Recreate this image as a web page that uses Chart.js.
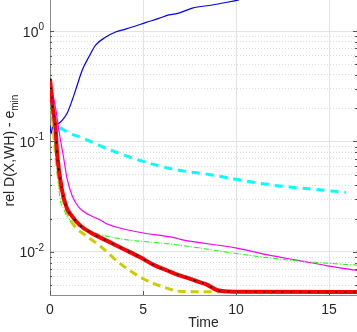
<!DOCTYPE html>
<html lang="en">
<head>
    <meta charset="UTF-8">
    <title>rel D(X,WH) over time</title>
    <style>
        * { margin: 0; padding: 0; box-sizing: border-box; }
        body { background: #fff; width: 357px; height: 332px; overflow: hidden; }
        #chart { display: block; }
    </style>
</head>
<body>
    <canvas id="chart" width="357" height="332"></canvas>
    <script src="https://cdn.jsdelivr.net/npm/chart.js@4/dist/chart.umd.min.js"></script>
    <script>
        // tick labels
        const timeTicks = [0, 5, 10, 15];
        const yMajor = [0.01, 0.1, 1];

        // series as [time, value]
        const blueLine = [[0, 0.14], [0.06, 0.118], [0.15, 0.14], [0.3, 0.145], [0.47, 0.146], [0.65, 0.155], [0.92, 0.18],
            [1.19, 0.236], [1.46, 0.323], [1.73, 0.442], [2.09, 0.584], [2.45, 0.746], [2.98, 0.877], [3.52, 0.98],
            [4.06, 1.04], [4.6, 1.11], [5.13, 1.19], [5.85, 1.30], [6.39, 1.40], [6.92, 1.45], [7.65, 1.61],
            [8.72, 1.72], [9.44, 1.81], [10.15, 1.91]];
        const cyanLine = [[0, 0.3], [0.1, 0.17], [0.38, 0.14], [1.0, 0.12], [1.73, 0.108], [3.07, 0.086], [5.0, 0.066],
            [6.84, 0.0553], [8.63, 0.05], [10.42, 0.0442], [12.2, 0.0398], [14.0, 0.0372], [15.9, 0.0346]];
        const magentaLine = [[0, 0.36], [0.3, 0.2], [0.5, 0.12], [0.74, 0.07], [0.92, 0.0458], [1.19, 0.0323],
            [1.55, 0.0253], [2.09, 0.0217], [2.7, 0.0195], [3.07, 0.0179], [4.87, 0.015], [6.66, 0.0135],
            [7.0, 0.013], [9.97, 0.0109], [11.7, 0.0094], [13.3, 0.0084], [14.9, 0.0075], [16.5, 0.0068]];
        const greenLine = [[0, 0.35], [0.2, 0.12], [0.4, 0.05], [0.56, 0.029], [0.74, 0.0245], [0.9, 0.021],
            [1.28, 0.0185], [1.64, 0.0172], [2.35, 0.015], [3.97, 0.013], [5.58, 0.0122], [7.0, 0.0115],
            [9.97, 0.0097], [12.4, 0.0086], [14.5, 0.008], [16.5, 0.0076]];
        const redLine = [[0, 0.37], [0.15, 0.2], [0.3, 0.13], [0.39, 0.075], [0.65, 0.036], [0.9, 0.025], [1.1, 0.022],
            [1.6, 0.0175], [2.18, 0.015], [3.07, 0.0126], [3.97, 0.0106], [4.87, 0.0089], [5.6, 0.0076],
            [6.3, 0.0068], [7.0, 0.0061], [7.3, 0.0059], [8.07, 0.0053], [8.4, 0.0051], [9.0, 0.0045],
            [9.9, 0.00437], [16.5, 0.00434]];
        const yellowLine = [[0, 0.36], [0.15, 0.15], [0.3, 0.078], [0.47, 0.045], [0.7, 0.03], [1.0, 0.021],
            [1.4, 0.0165], [1.82, 0.0145], [2.7, 0.0113], [3.79, 0.0078], [5.04, 0.0057], [6.12, 0.0048],
            [7.0, 0.0044], [8.0, 0.00437], [16.5, 0.00437]];

        const pts = arr => arr.map(([x, y]) => ({ x, y }));
        const isMajor = v => yMajor.some(m => Math.abs(m - v) < m * 1e-6);

        const line = (data, color, width, dash) => ({
            data: pts(data),
            borderColor: color,
            borderWidth: width,
            borderDash: dash || [],
            pointRadius: 0,
            fill: false,
            cubicInterpolationMode: "monotone",
        });

        const textColor = "#262626";
        const axisColor = "#8c8c8c";
        const fontFamily = '"Liberation Sans", Arial, sans-serif';

        // y tick labels with superscripts, y title with subscript, inner tick marks
        const matlabDecor = {
            id: "matlabDecor",
            afterDraw(chart) {
                const { ctx, chartArea: a } = chart;
                const y = chart.scales.y, x = chart.scales.x;
                ctx.save();
                ctx.strokeStyle = "#555";
                ctx.lineWidth = 1;
                // tick marks inside the box
                y.ticks.forEach(t => {
                    const py = Math.round(y.getPixelForValue(t.value)) + 0.5;
                    const len = isMajor(t.value) ? 4 : 2;
                    ctx.beginPath();
                    ctx.moveTo(a.left, py); ctx.lineTo(a.left + len, py);
                    ctx.moveTo(a.right, py); ctx.lineTo(a.right - len, py);
                    ctx.stroke();
                });
                timeTicks.forEach(v => {
                    const px = Math.round(x.getPixelForValue(v)) + 0.5;
                    ctx.beginPath();
                    ctx.moveTo(px, a.bottom); ctx.lineTo(px, a.bottom - 4);
                    ctx.stroke();
                });

                ctx.fillStyle = textColor;
                ctx.textBaseline = "alphabetic";
                yMajor.forEach(v => {
                    const py = y.getPixelForValue(v);
                    const sup = String(Math.round(Math.log10(v)));
                    ctx.font = "10px " + fontFamily;
                    const supW = ctx.measureText(sup).width;
                    ctx.textAlign = "left";
                    ctx.fillText(sup, 44 - supW, py - 1);
                    ctx.font = "14px " + fontFamily;
                    ctx.textAlign = "right";
                    ctx.fillText("10", 44 - supW, py + 5.5);
                });

                // y title
                const main = "rel D(X,WH) - e", sub = "min";
                ctx.font = "14px " + fontFamily;
                const w1 = ctx.measureText(main).width;
                ctx.font = "10px " + fontFamily;
                const w2 = ctx.measureText(sub).width;
                ctx.translate(14, (a.top + a.bottom) / 2 + 3);
                ctx.rotate(-Math.PI / 2);
                ctx.textAlign = "left";
                const start = -(w1 + w2) / 2;
                ctx.font = "14px " + fontFamily;
                ctx.fillText(main, start, 0);
                ctx.font = "10px " + fontFamily;
                ctx.fillText(sub, start + w1, 4);
                ctx.restore();
            }
        };

        new Chart(document.getElementById("chart"), {
            type: "line",
            data: {
                datasets: [
                    line(redLine, "#000000", 1.6, [2, 7]),
                    line(redLine, "#ff0000", 4),
                    line(yellowLine, "#cccc00", 3, [8, 5]),
                    line(greenLine, "#00ff00", 1, [5, 2, 1, 2]),
                    line(magentaLine, "#ff00ff", 1.2),
                    line(blueLine, "#0000ff", 1.2),
                    line(cyanLine, "#00ffff", 3, [8, 6]),
                ],
            },
            options: {
                responsive: false,
                animation: false,
                layout: { padding: 0 },
                plugins: { legend: { display: false }, tooltip: { enabled: false } },
                scales: {
                    x: {
                        type: "linear",
                        min: 0,
                        max: 16.5,
                        afterBuildTicks: s => { s.ticks = timeTicks.map(v => ({ value: v })); },
                        afterFit: s => { s.height = 37; },
                        grid: { color: "#e3e3e3", drawTicks: false },
                        border: { color: axisColor },
                        ticks: {
                            padding: 7,
                            color: textColor,
                            font: { family: fontFamily, size: 14 },
                        },
                        title: {
                            display: true,
                            text: "Time",
                            color: textColor,
                            padding: 0,
                            font: { family: fontFamily, size: 14 },
                        },
                    },
                    y: {
                        type: "logarithmic",
                        min: 0.00408,
                        max: 1.908,
                        afterBuildTicks: s => {
                            const ticks = [];
                            yMajor.concat([10]).forEach(m => {
                                for (let k = 1; k <= 9; k++) {
                                    const v = +(m / 10 * k).toPrecision(3);
                                    if (v >= s.min && v <= s.max) ticks.push({ value: v, major: isMajor(v) });
                                }
                            });
                            s.ticks = ticks;
                        },
                        afterFit: s => { s.width = 50; },
                        grid: {
                            drawTicks: false,
                            color: c => (c.tick && isMajor(c.tick.value)) ? "#e3e3e3" : "#dcdcdc",
                        },
                        border: {
                            color: axisColor,
                            dash: c => (c.tick && !isMajor(c.tick.value)) ? [1, 2] : [],
                        },
                        ticks: { display: false },
                    },
                },
            },
            plugins: [matlabDecor],
        });
    </script>
</body>
</html>
